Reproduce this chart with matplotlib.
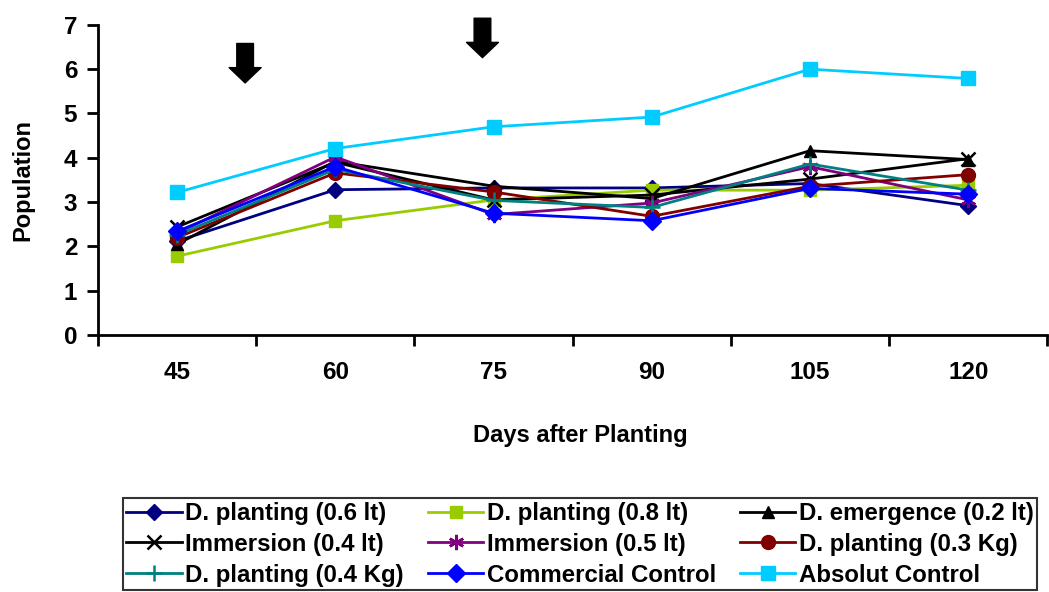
import matplotlib.pyplot as plt

plt.rcParams['font.family'] = ['Liberation Sans', 'DejaVu Sans']
plt.rcParams['font.weight'] = 'bold'

days = ['45', '60', '75', '90', '105', '120']

dp_06_lt = [2.12, 3.28, 3.32, 3.32, 3.42, 2.92]
dp_08_lt = [1.78, 2.58, 3.05, 3.27, 3.27, 3.38]
de_02_lt = [2.05, 3.92, 3.36, 3.08, 4.16, 3.96]
imm_04_lt = [2.44, 3.90, 3.05, 3.16, 3.52, 3.98]
imm_05_lt = [2.30, 4.02, 2.72, 2.98, 3.80, 3.05]
dp_03_kg = [2.20, 3.66, 3.23, 2.68, 3.36, 3.62]
dp_04_kg = [2.26, 3.74, 3.04, 2.88, 3.86, 3.27]
commercial = [2.34, 3.80, 2.75, 2.58, 3.31, 3.18]
absolut = [3.22, 4.21, 4.70, 4.92, 6.00, 5.79]

series = [
    ('D. planting (0.6 lt)', dp_06_lt, '#000080', 'D', 8),
    ('D. planting (0.8 lt)', dp_08_lt, '#99CC00', 's', 9),
    ('D. emergence (0.2 lt)', de_02_lt, '#000000', '^', 9),
    ('Immersion (0.4 lt)', imm_04_lt, '#000000', 'x', 10),
    ('Immersion (0.5 lt)', imm_05_lt, '#800080', (6, 2, 0), 11),
    ('D. planting (0.3 Kg)', dp_03_kg, '#800000', 'o', 10),
    ('D. planting (0.4 Kg)', dp_04_kg, '#008080', '+', 12),
    ('Commercial Control', commercial, '#0000FF', 'D', 9),
    ('Absolut Control', absolut, '#00CCFF', 's', 10),
]

fig = plt.figure(figsize=(10.49, 5.92), dpi=100)
ax = fig.add_axes([0.0934, 0.434, 0.905, 0.524])

x = list(range(len(days)))
handles = []
for label, vals, color, marker, ms in series:
    line, = ax.plot(x, vals, color=color, lw=2, marker=marker, markersize=ms,
                    markeredgewidth=1.8 if marker in ('x', '+', (6, 2, 0)) else 1,
                    markerfacecolor=color, markeredgecolor=color, label=label)
    handles.append(line)

ax.set_xlim(-0.5, len(days) - 0.5)
ax.set_ylim(0, 7)
ax.set_yticks(range(0, 8))
# ticks sit between categories, labels sit under them
ax.set_xticks([i - 0.5 for i in range(len(days) + 1)])
ax.set_xticklabels([])
ax.set_xticks(x, minor=True)
ax.set_xticklabels(days, minor=True)
ax.tick_params(axis='x', which='minor', length=0, pad=19, labelsize=17.5)
ax.tick_params(axis='x', which='major', direction='out', length=8, width=2)
ax.tick_params(axis='y', direction='out', length=8, width=2, labelsize=17.5, pad=7)
for side in ('top', 'right'):
    ax.spines[side].set_visible(False)
for side in ('left', 'bottom'):
    ax.spines[side].set_linewidth(2)

ax.set_ylabel('Population', fontsize=17, fontweight='bold')
ax.yaxis.set_label_coords(-0.067, 0.5)
fig.text(0.553, 0.265, 'Days after Planting', ha='center', va='center',
         fontsize=17, fontweight='bold')

# application times
for xa, ytop, ybot in [(0.43, 6.58, 5.69), (1.93, 7.15, 6.26)]:
    ax.annotate('', xy=(xa, ybot), xytext=(xa, ytop),
                arrowprops=dict(arrowstyle='simple,head_length=0.55,head_width=1.15,tail_width=0.6',
                                color='black', mutation_scale=20,
                                shrinkA=0, shrinkB=0),
                annotation_clip=False)

# legend fills column by column, so reorder to read across rows
order = [0, 3, 6, 1, 4, 7, 2, 5, 8]
leg = fig.legend([handles[i] for i in order], [series[i][0] for i in order],
                 ncol=3, loc='center', bbox_to_anchor=(0.553, 0.0805),
                 frameon=True, fancybox=False, edgecolor='black',
                 prop={'size': 17.3, 'weight': 'bold'}, handlelength=2.3,
                 handletextpad=0.15, columnspacing=1.0, labelspacing=0.33,
                 borderpad=0.15, borderaxespad=0)
leg.get_frame().set_linewidth(1.5)

fig.savefig('out.png', dpi=100)
